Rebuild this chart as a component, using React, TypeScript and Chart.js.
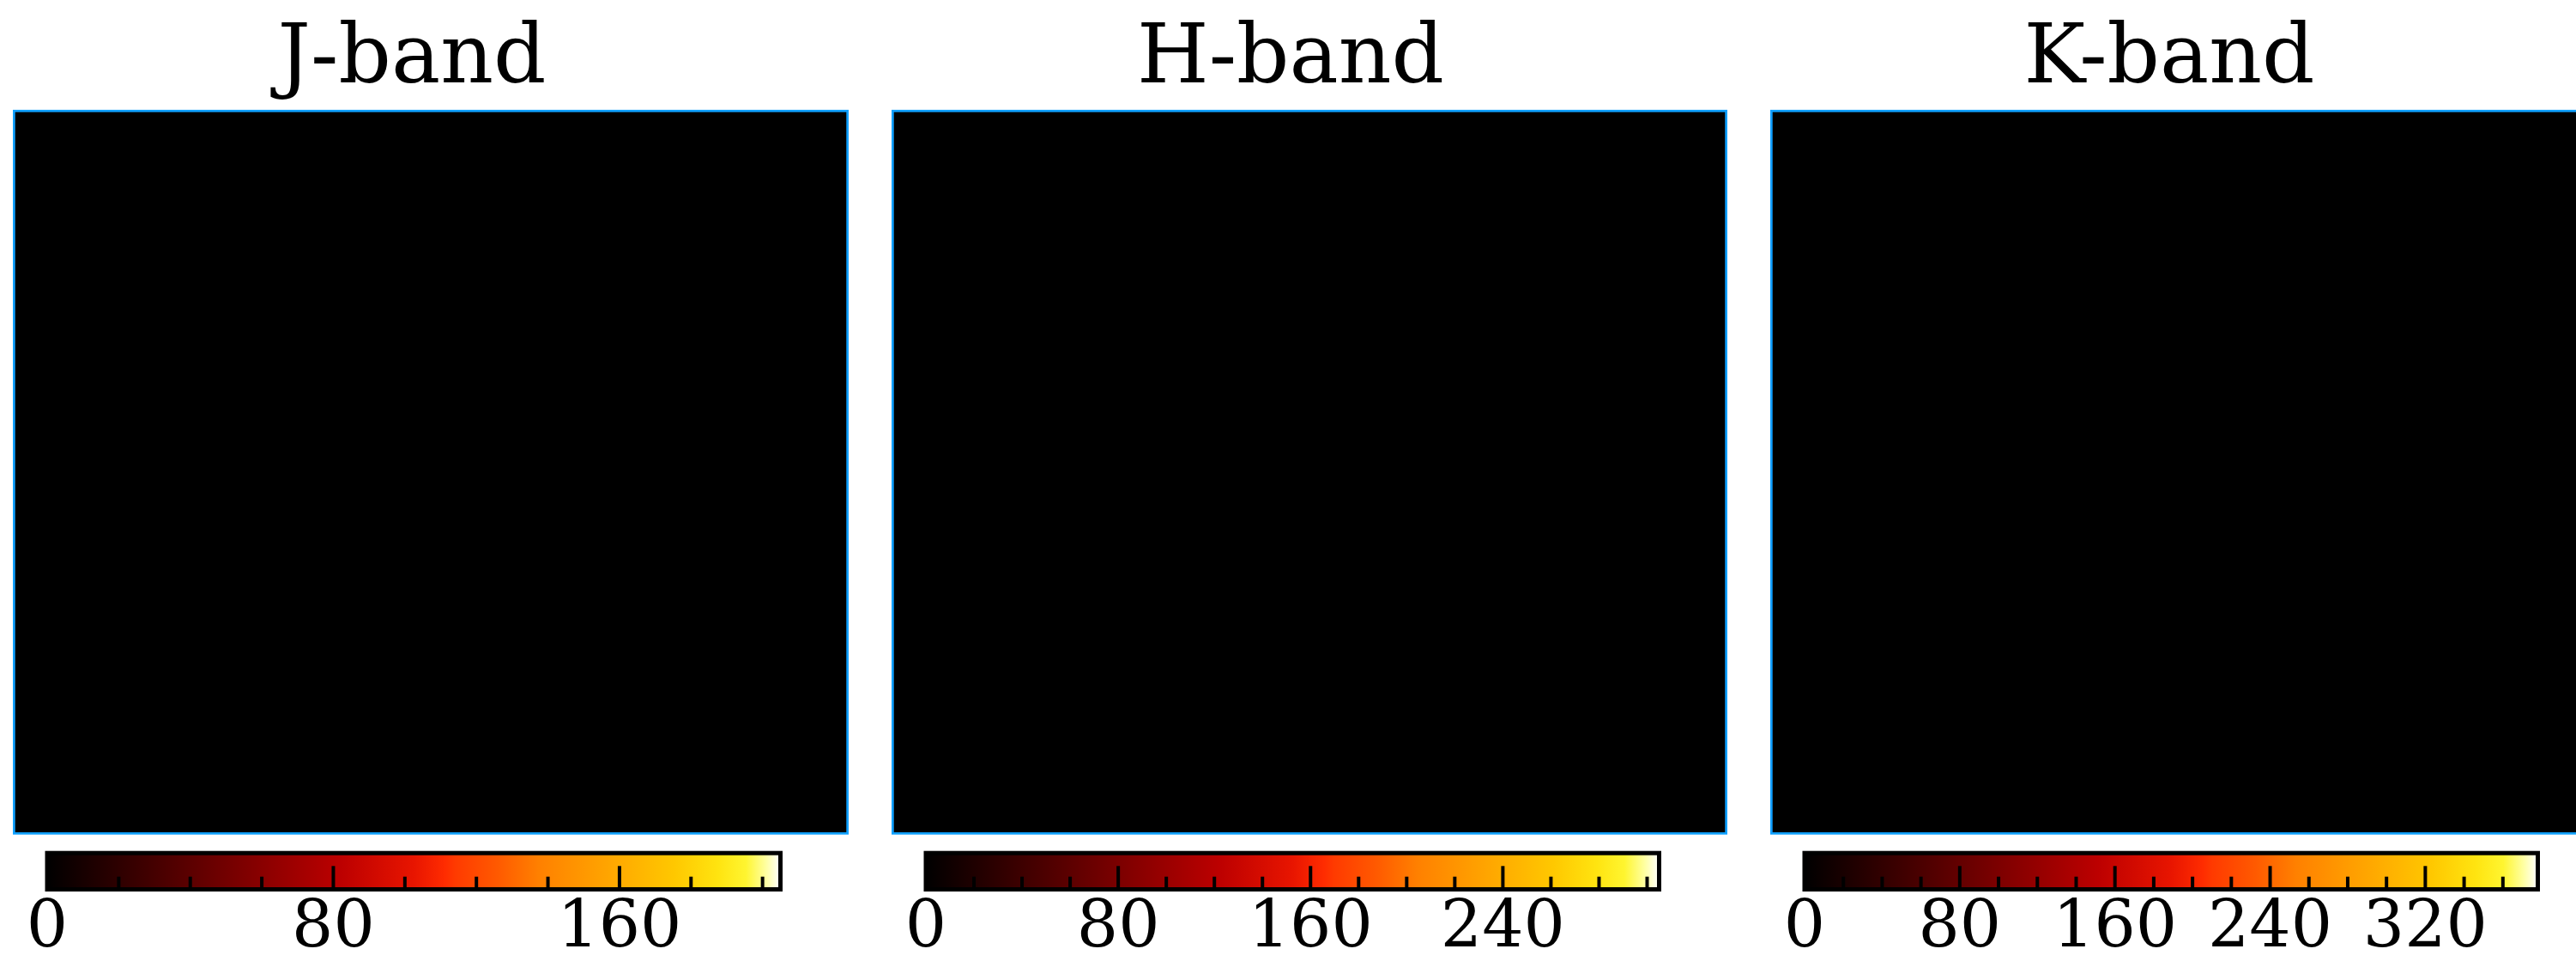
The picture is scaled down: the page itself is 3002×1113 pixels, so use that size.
import React, { useEffect, useRef } from "react";
import { Chart, registerables } from "chart.js";

Chart.register(...registerables);

// ---- data ----
const bandNames = ["J-band", "H-band", "K-band"];
const colorbarMax = [205, 305, 378];
const jTickLabels = [0, 80, 160];
const hTickLabels = [0, 80, 160, 240];
const kTickLabels = [0, 80, 160, 240, 320];
const tickLabels = [jTickLabels, hTickLabels, kTickLabels];
const minorTickStep = 20;
// image pixel level shown in each panel (all at the bottom of the colour scale)
const imageLevel = [0, 0, 0];

// colour map (fraction -> colour)
const cmapPositions = [0, 0.1, 0.2, 0.3, 0.4, 0.5, 0.543, 0.556, 0.615, 0.67, 0.778, 0.856, 0.915, 0.953, 0.98, 1];
const cmapColors = [
  "#000000", "#2f0000", "#5e0000", "#8d0000", "#bc0000", "#e81500", "#ff2c00", "#ff3a00",
  "#ff5a00", "#ff8000", "#ffaa00", "#ffc800", "#ffe410", "#fff530", "#ffffa0", "#ffffff",
];

// ---- layout constants ----
const FONT = "'DejaVu Serif', 'Liberation Serif', serif";
const PANEL_LEFT = [15, 1039.2, 2063.4];
const BORDER_BLUE = "#10a0ff";

function hexToRgb(h: string) {
  const n = parseInt(h.slice(1), 16);
  return [(n >> 16) & 255, (n >> 8) & 255, n & 255];
}

function colormap(f: number) {
  const t = Math.max(0, Math.min(1, f));
  for (let i = 1; i < cmapPositions.length; i++) {
    if (t <= cmapPositions[i]) {
      const a = cmapPositions[i - 1];
      const b = cmapPositions[i];
      const u = (t - a) / (b - a);
      const c0 = hexToRgb(cmapColors[i - 1]);
      const c1 = hexToRgb(cmapColors[i]);
      const c = c0.map((v, k) => Math.round(v + (c1[k] - v) * u));
      return `rgb(${c[0]},${c[1]},${c[2]})`;
    }
  }
  return cmapColors[cmapColors.length - 1];
}

function Panel({ index }: { index: number }) {
  const ref = useRef<HTMLCanvasElement>(null);
  useEffect(() => {
    const max = colorbarMax[index];
    const panelPlugin = {
      id: "imagePanel" + index,
      beforeDatasetsDraw(chart: any) {
        const { ctx, chartArea: a } = chart;
        ctx.save();
        ctx.fillStyle = colormap(imageLevel[index] / max);
        ctx.fillRect(a.left, a.top, a.right - a.left, a.bottom - a.top);
        ctx.strokeStyle = BORDER_BLUE;
        ctx.lineWidth = 2.7;
        ctx.strokeRect(a.left, a.top, a.right - a.left, a.bottom - a.top);
        ctx.restore();
      },
    };
    const chart = new Chart(ref.current as HTMLCanvasElement, {
      type: "scatter",
      data: { datasets: [] },
      options: {
        animation: false,
        responsive: false,
        devicePixelRatio: 1,
        layout: { padding: { left: 17.35, right: 17.35, top: 0, bottom: 8.7 } },
        plugins: {
          legend: { display: false },
          tooltip: { enabled: false },
          title: {
            display: true,
            text: bandNames[index],
            color: "#000",
            font: { family: FONT, size: 96, weight: "normal", lineHeight: 1.2 },
            padding: { top: 13.4, bottom: 0.7 },
          },
        },
        scales: {
          x: { type: "linear", display: false, min: 0, max: 1 },
          y: {
            type: "linear",
            display: true,
            position: "left",
            min: 0,
            max: 1,
            grid: { display: false, drawTicks: false },
            border: { display: false },
            ticks: { display: false },
            afterFit: (s: any) => {
              s.width = 44;
            },
          },
        },
      } as any,
      plugins: [panelPlugin],
    });
    return () => chart.destroy();
  }, [index]);
  return (
    <canvas
      ref={ref}
      width={1050}
      height={980}
      style={{ position: "absolute", left: PANEL_LEFT[index] - 60, top: 0 }}
    />
  );
}

function Colorbar({ index }: { index: number }) {
  const ref = useRef<HTMLCanvasElement>(null);
  useEffect(() => {
    const max = colorbarMax[index];
    const majors = tickLabels[index];
    const cbPlugin = {
      id: "cbDecor" + index,
      afterDatasetsDraw(chart: any) {
        const { ctx, chartArea: a, scales } = chart;
        const x = scales.x;
        ctx.save();
        ctx.strokeStyle = "#000";
        ctx.lineWidth = 4;
        for (let v = minorTickStep; v <= max; v += minorTickStep) {
          const px = x.getPixelForValue(v);
          const len = majors.includes(v) ? 27.2 : 14.8;
          ctx.beginPath();
          ctx.moveTo(px, a.bottom);
          ctx.lineTo(px, a.bottom - len);
          ctx.stroke();
        }
        ctx.lineWidth = 5;
        ctx.strokeRect(a.left, a.top, a.right - a.left, a.bottom - a.top);
        ctx.restore();
      },
    };
    const chart = new Chart(ref.current as HTMLCanvasElement, {
      type: "bar",
      data: {
        labels: [bandNames[index]],
        datasets: [
          {
            data: [[0, max]],
            backgroundColor: (c: any) => {
              const ch = c.chart;
              const xs = ch.scales && ch.scales.x;
              if (!ch.chartArea || !xs) return "#000";
              const p0 = xs.getPixelForValue(0);
              const p1 = xs.getPixelForValue(max);
              if (!isFinite(p0) || !isFinite(p1) || p1 === p0) return "#000";
              const g = ch.ctx.createLinearGradient(p0, 0, p1, 0);
              cmapPositions.forEach((p, i) => g.addColorStop(p, cmapColors[i]));
              return g;
            },
            borderWidth: 0,
            barPercentage: 1,
            categoryPercentage: 1,
          },
        ],
      },
      options: {
        indexAxis: "y",
        animation: false,
        responsive: false,
        devicePixelRatio: 1,
        layout: { padding: { left: 80, right: 80.5, top: 14.2, bottom: 0 } },
        plugins: {
          legend: { display: false },
          tooltip: { enabled: false },
          title: { display: false },
        },
        scales: {
          y: { display: false },
          x: {
            type: "linear",
            position: "bottom",
            min: 0,
            max,
            grid: { display: false, drawTicks: false },
            border: { display: false },
            afterBuildTicks: (s: any) => {
              s.ticks = majors.map((v) => ({ value: v }));
            },
            ticks: {
              autoSkip: false,
              maxRotation: 0,
              minRotation: 0,
              padding: 9,
              color: "#000",
              font: { family: FONT, size: 76, lineHeight: 1 },
            },
            afterFit: (s: any) => {
              s.height = 76.5;
            },
          },
        },
      } as any,
      plugins: [cbPlugin],
    });
    return () => chart.destroy();
  }, [index]);
  return (
    <canvas
      ref={ref}
      width={1015}
      height={133}
      style={{ position: "absolute", left: PANEL_LEFT[index] + 39.5 - 80, top: 980 }}
    />
  );
}

export default function App() {
  return (
    <div
      style={{
        position: "fixed",
        left: 0,
        top: 0,
        width: 3002,
        height: 1113,
        background: "#fff",
        overflow: "hidden",
      }}
    >
      {[0, 1, 2].map((i) => (
        <React.Fragment key={i}>
          <Panel index={i} />
          <Colorbar index={i} />
        </React.Fragment>
      ))}
    </div>
  );
}
